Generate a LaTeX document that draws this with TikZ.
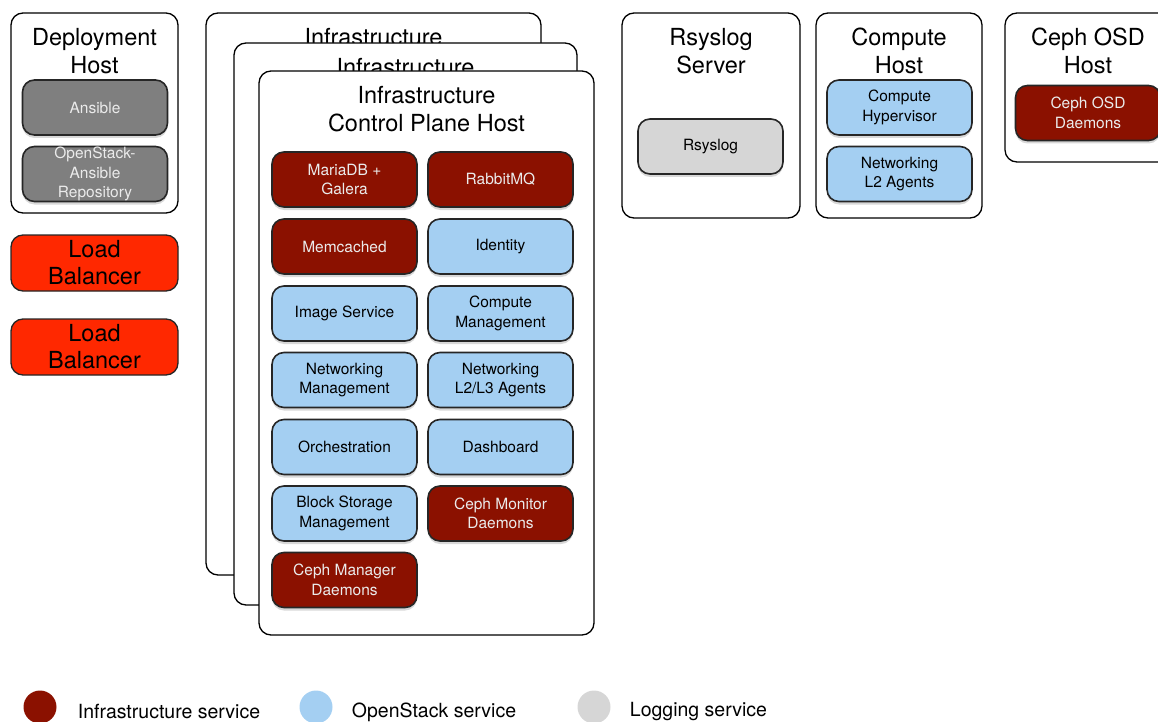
\documentclass[tikz,border=0pt]{standalone}
\usepackage{fontspec}
\setmainfont{TeX Gyre Heros}
\usetikzlibrary{positioning,shadows}
\definecolor{InfraRed}{RGB}{139,17,0}
\definecolor{StackBlue}{RGB}{164,207,242}
\definecolor{LogGray}{RGB}{214,214,214}
\definecolor{ToolGray}{RGB}{127,127,127}
\definecolor{LBRed}{RGB}{255,40,0}

\begin{document}
\begin{tikzpicture}[x=1pt,y=-1pt]
				\tikzset{
					host/.style={draw=black, line width=1.3pt, fill=white, rounded corners=12pt, inner sep=0pt},
					ttl/.style={anchor=north, align=center, inner sep=0pt, font=\fontsize{23.5}{28}\selectfont},
					svc/.style={draw=black!85, line width=1.6pt, rounded corners=12pt, minimum width=145pt,
						minimum height=55pt, inner sep=0pt, align=center, font=\fontsize{15.5}{19.5}\selectfont,
						drop shadow={opacity=0.3, shadow xshift=0pt, shadow yshift=-3pt}},
					inf/.style={svc, fill=InfraRed, text=white!92!black},
					ops/.style={svc, fill=StackBlue, text=black},
					logs/.style={svc, fill=LogGray, text=black},
					tool/.style={svc, fill=ToolGray, text=white!92!black},
					lb/.style={draw=black!85, line width=1.3pt, rounded corners=12pt, fill=LBRed, minimum width=167pt,
						minimum height=56pt, inner sep=0pt, align=center, font=\fontsize{23.5}{27}\selectfont},
					key/.style={circle, minimum size=33pt, inner sep=0pt},
					kt/.style={inner sep=0pt, font=\fontsize{19.5}{22}\selectfont}
				}
				\path[use as bounding box, clip] (0,0) rectangle (1158,722);
				
				% ======= Deployment host + load balancers =======
				\node[host, minimum width=167pt, minimum height=200pt] (dep) at (94.5,113) {};
				\node[ttl] (depT) at (94.5,28) {Deployment\\Host};
				\node[tool] (ans) at (95,107.5) {Ansible};
				\node[tool] (repo) at (95,174) {OpenStack-\\Ansible\\Repository};
				\node[lb] (lb1) at (94.5,263) {Load\\Balancer};
				\node[lb] (lb2) at (94.5,347) {Load\\Balancer};
				
				% ======= Infrastructure hosts (stacked) =======
				\node[host, minimum width=335pt, minimum height=562pt] (infA) at (373.5,294) {};
				\node[ttl] (infAT) at (373.5,28) {Infrastructure};
				\node[host, minimum width=343pt, minimum height=562pt] (infB) at (405.5,324) {};
				\node[ttl] (infBT) at (405.5,58) {Infrastructure};
				\node[host, minimum width=335pt, minimum height=564pt] (infC) at (426.5,353) {};
				\node[ttl] (infCT) at (426.5,86) {Infrastructure\\Control Plane Host};
				
				\node[inf] (mdb)  at (344.5,179.5) {MariaDB +\\Galera};
				\node[inf] (rmq)  at (500.5,179.5) {RabbitMQ};
				\node[inf] (mc)   at (344.5,246.5) {Memcached};
				\node[ops] (idn)  at (500.5,246.5) {Identity};
				\node[ops] (img)  at (344.5,313.5) {Image Service};
				\node[ops] (cmg)  at (500.5,313.5) {Compute\\Management};
				\node[ops] (nmg)  at (344.5,380)   {Networking\\Management};
				\node[ops] (nag)  at (500.5,380)   {Networking\\L2/L3 Agents};
				\node[ops] (orc)  at (344.5,447)   {Orchestration};
				\node[ops] (dsh)  at (500.5,447)   {Dashboard};
				\node[ops] (bsm)  at (344.5,513.5) {Block Storage\\Management};
				\node[inf] (cmon) at (500.5,513.5) {Ceph Monitor\\Daemons};
				\node[inf] (cmgr) at (344.5,580)   {Ceph Manager\\Daemons};
				
				% ======= Rsyslog, compute and Ceph OSD hosts =======
				\node[host, minimum width=178pt, minimum height=205pt] (rsh) at (711,115.5) {};
				\node[ttl] (rshT) at (711,28) {Rsyslog\\Server};
				\node[logs] (rsl) at (710.5,146.5) {Rsyslog};
				
				\node[host, minimum width=166pt, minimum height=205pt] (cph) at (899,115.5) {};
				\node[ttl] (cphT) at (899,28) {Compute\\Host};
				\node[ops] (hyp) at (899.5,107.5) {Compute\\Hypervisor};
				\node[ops] (l2a) at (899.5,174) {Networking\\L2 Agents};
				
				\node[host, minimum width=166pt, minimum height=149pt] (osh) at (1088,87.5) {};
				\node[ttl] (oshT) at (1088,28) {Ceph OSD\\Host};
				\node[inf] (osd) at (1088,113) {Ceph OSD\\Daemons};
				
				% ======= Legend =======
				\node[key, fill=InfraRed] (kInf) at (40,707) {};
				\node[kt, right=21pt of kInf, yshift=-5pt] (kInfT) {Infrastructure service};
				\node[key, fill=StackBlue] (kOps) at (316,707) {};
				\node[kt, right=19pt of kOps, yshift=-5pt] (kOpsT) {OpenStack service};
				\node[key, fill=LogGray] (kLog) at (594,707) {};
				\node[kt, right=19pt of kLog, yshift=-5pt] (kLogT) {Logging service};
\end{tikzpicture}
\end{document}
